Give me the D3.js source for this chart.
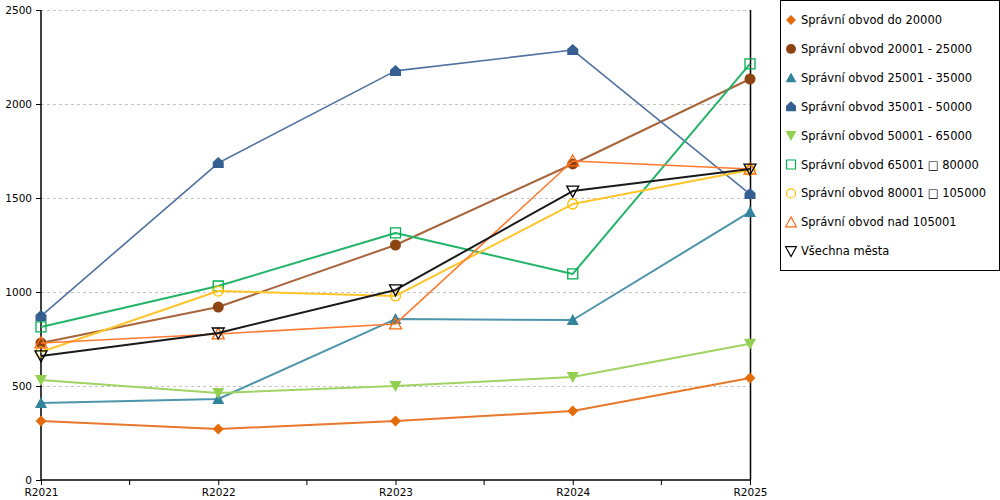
<!DOCTYPE html>
<html><head><meta charset="utf-8">
<script src="https://cdn.jsdelivr.net/npm/d3@7"></script>
<style>body{margin:0;background:#fff;}svg{display:block;font-family:"DejaVu Sans",Verdana,sans-serif;}</style>
</head><body><svg id="c" width="1000" height="500"></svg>
<script>
const categories = ["R2021","R2022","R2023","R2024","R2025"];
const seriesNames = [
  "Správní obvod do 20000",
  "Správní obvod 20001 - 25000",
  "Správní obvod 25001 - 35000",
  "Správní obvod 35001 - 50000",
  "Správní obvod 50001 - 65000",
  "Správní obvod 65001 \u25A1 80000",
  "Správní obvod 80001 \u25A1 105000",
  "Správní obvod nad 105001",
  "Všechna města"
];
const s1 = [314, 271, 314, 367, 543];
const s2 = [729, 920, 1250, 1681, 2133];
const s3 = [410, 431, 856, 851, 1426];
const s4 = [872, 1686, 2176, 2287, 1521];
const s5 = [532, 463, 500, 548, 725];
const s6 = [814, 1032, 1314, 1096, 2213];
const s7 = [681, 1005, 979, 1468, 1649];
const s8 = [729, 777, 830, 1697, 1654];
const s9 = [660, 782, 1011, 1537, 1654];
const seriesValues = [s1,s2,s3,s4,s5,s6,s7,s8,s9];
const yTicks = [0, 500, 1000, 1500, 2000, 2500];

const markerColors = ["#E46C0A","#8E4410","#31849B","#365F91","#92D050","#00B050","#FFC000","#FF6A13","#000000"];
const lineColors   = ["#E8782A","#A8643A","#4E95AB","#4F71A0","#9FD462","#22B468","#FFC52A","#FF7A2E","#1a1a1a"];
const lineWidths   = [2,2,2,1.6,2,2,2,1.6,2];
const shapes = [
  {d:"M0,-5.5L5.5,0L0,5.5L-5.5,0Z", fill:true},
  {circle:5.5, fill:true},
  {d:"M0,-6L6,5L-6,5Z", fill:true},
  {d:"M0,-6L5.5,-1L5.5,5L-5.5,5L-5.5,-1Z", fill:true},
  {d:"M-6,-5L6,-5L0,6Z", fill:true},
  {d:"M-5,-5L5,-5L5,5L-5,5Z", fill:false},
  {circle:5, fill:false},
  {d:"M0,-6L6,5L-6,5Z", fill:false},
  {d:"M-6,-5L6,-5L0,6Z", fill:false}
];

const svg = d3.select("#c");
const x = d3.scalePoint().domain(categories).range([41, 750]);
const y = d3.scaleLinear().domain([0, 2500]).range([480, 10]);

// gridlines
svg.append("g").selectAll("line").data(yTicks.filter(v=>v>0)).join("line")
  .attr("x1", 41).attr("x2", 750)
  .attr("y1", d=>Math.round(y(d))+0.5).attr("y2", d=>Math.round(y(d))+0.5)
  .attr("stroke", "#c4c4c4").attr("stroke-dasharray", "3,3");

// right border line
svg.append("line").attr("x1",750.5).attr("x2",750.5).attr("y1",10).attr("y2",480)
  .attr("stroke","#000").attr("stroke-width",1.5);

// y axis
const yAxis = svg.append("g").attr("transform","translate(41,0)")
  .call(d3.axisLeft(y).tickValues(yTicks).tickSize(5).tickPadding(4).tickFormat(d3.format("d")));
yAxis.select(".domain").attr("stroke","#000").attr("stroke-width",1.5).attr("d","M0,10V480");
yAxis.selectAll("text").attr("font-size","10.5px").attr("fill","#000").attr("font-family","DejaVu Sans, sans-serif");

// x axis
const xAxis = svg.append("g").attr("transform","translate(0,480)")
  .call(d3.axisBottom(x).tickSize(5).tickPadding(4));
xAxis.select(".domain").attr("stroke","#000").attr("stroke-width",1.5).attr("d","M41,0H750");
xAxis.selectAll("text").attr("font-size","10.5px").attr("fill","#000").attr("font-family","DejaVu Sans, sans-serif");
// minor ticks between categories
const mids = categories.slice(1).map((c,i)=> (x(c)+x(categories[i]))/2);
xAxis.selectAll(".minor").data(mids).join("line").attr("class","minor")
  .attr("x1",d=>d).attr("x2",d=>d).attr("y1",0).attr("y2",5).attr("stroke","#000");

function drawMarker(g, sh, color){
  if (sh.circle) {
    g.append("circle").attr("r", sh.circle)
      .attr("fill", sh.fill ? color : "none").attr("stroke", color).attr("stroke-width", sh.fill?0:1.3);
  } else {
    g.append("path").attr("d", sh.d)
      .attr("fill", sh.fill ? color : "none").attr("stroke", color).attr("stroke-width", sh.fill?0:1.3);
  }
}

const line = d3.line().x((d,i)=>x(categories[i])).y(d=>y(d));
seriesValues.forEach((vals, si)=>{
  const g = svg.append("g");
  g.append("path").datum(vals).attr("d", line).attr("fill","none")
    .attr("stroke", lineColors[si]).attr("stroke-width", lineWidths[si]).attr("stroke-linejoin","round");
  vals.forEach((v,i)=>{
    const mg = g.append("g").attr("transform",`translate(${x(categories[i])},${y(v)})`);
    drawMarker(mg, shapes[si], markerColors[si]);
  });
});

// legend
const lg = svg.append("g");
lg.append("rect").attr("x",780.5).attr("y",0.5).attr("width",219).attr("height",270)
  .attr("fill","#fff").attr("stroke","#000");
seriesNames.forEach((n,i)=>{
  const cy = 20 + i*28.9;
  const mg = lg.append("g").attr("transform",`translate(791,${cy}) scale(0.9)`);
  drawMarker(mg, shapes[i], markerColors[i]);
  lg.append("text").attr("x",801).attr("y",cy+4).attr("font-size","11.5px").attr("fill","#000").text(n);
});
</script></body></html>
